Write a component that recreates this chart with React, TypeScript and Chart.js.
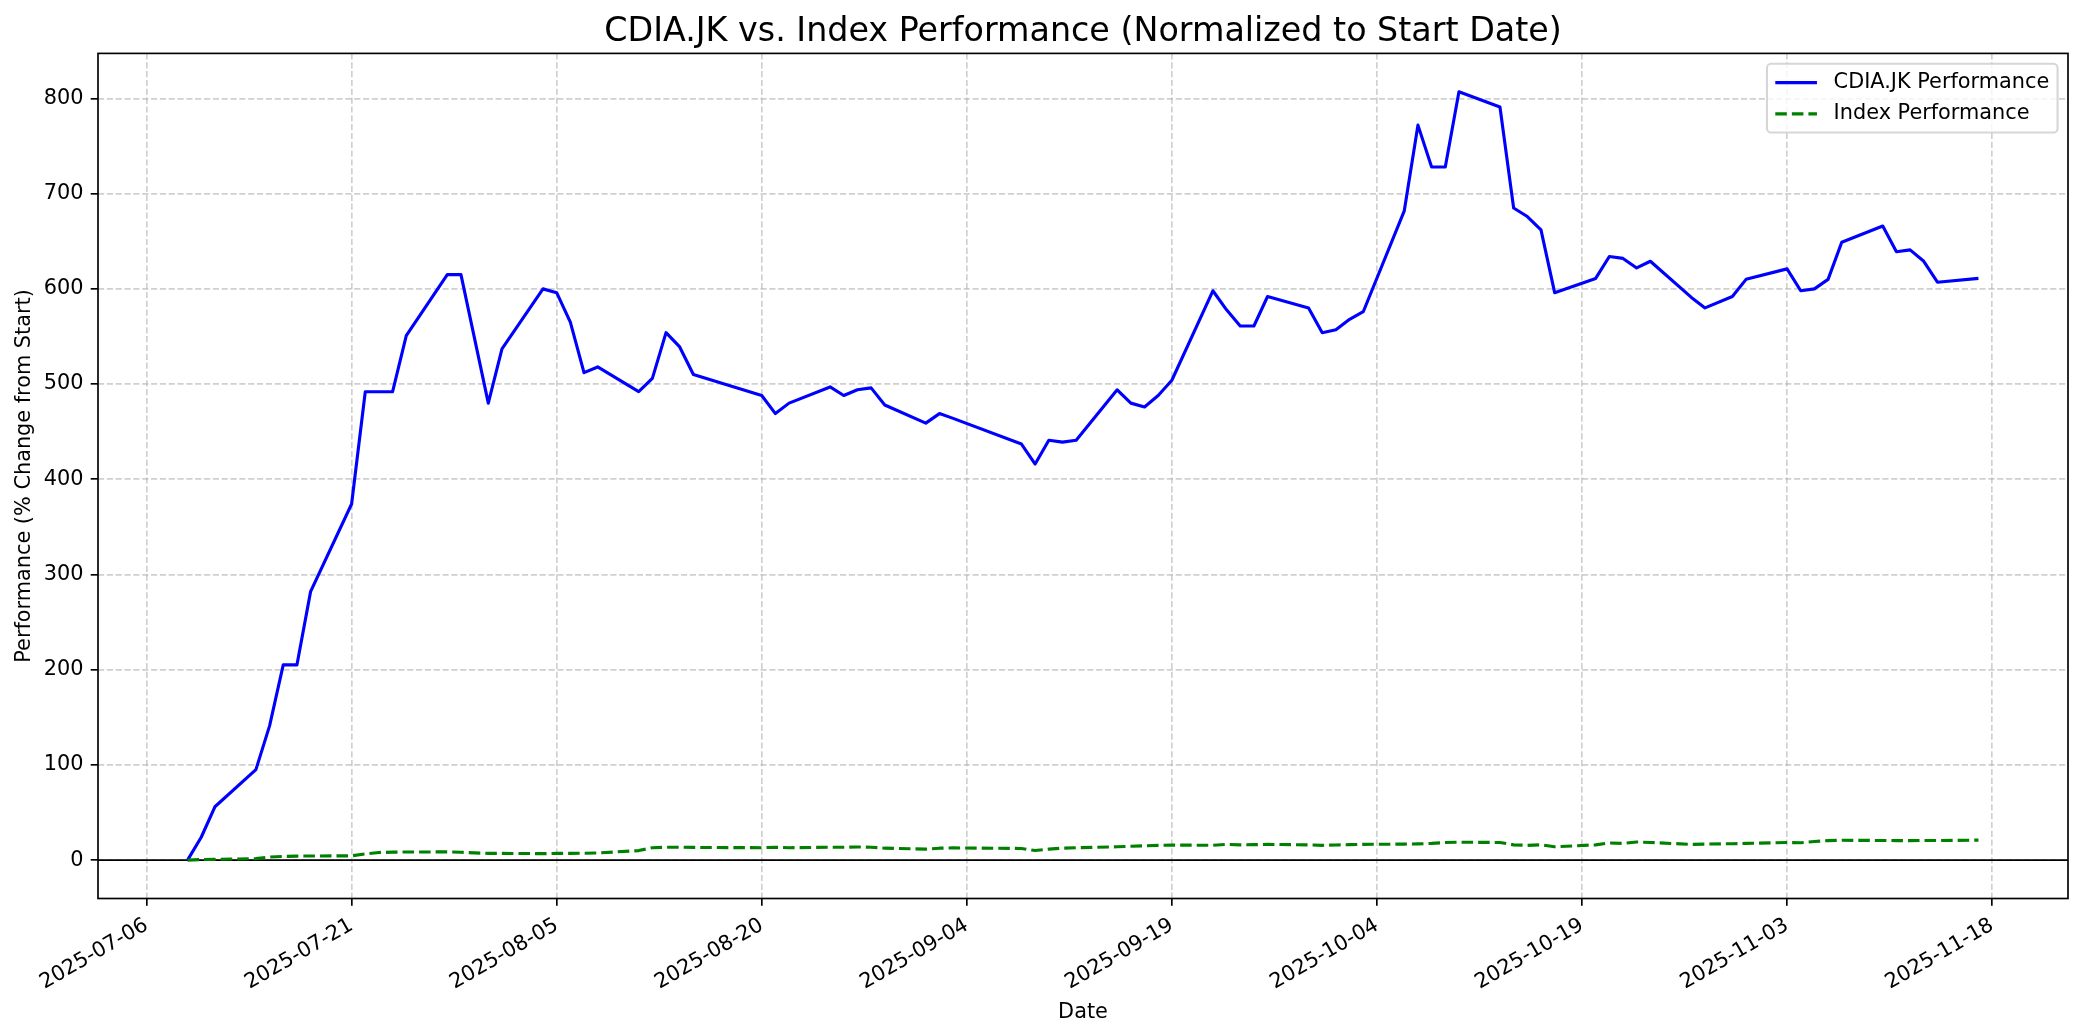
import React, { useEffect, useRef } from "react";
import { Chart, registerables } from "chart.js";

Chart.register(...registerables);

// ---------------- data ----------------
const chartTitle = "CDIA.JK vs. Index Performance (Normalized to Start Date)";
const xAxisTitle = "Date";
const yAxisTitle = "Performance (% Change from Start)";
const seriesLabels = ["CDIA.JK Performance", "Index Performance"];

const dates = [
  "2025-07-09", "2025-07-10", "2025-07-11", "2025-07-14", "2025-07-15", "2025-07-16", "2025-07-17", "2025-07-18",
  "2025-07-21", "2025-07-22", "2025-07-23", "2025-07-24", "2025-07-25", "2025-07-28", "2025-07-29", "2025-07-31",
  "2025-08-01", "2025-08-04", "2025-08-05", "2025-08-06", "2025-08-07", "2025-08-08", "2025-08-11", "2025-08-12",
  "2025-08-13", "2025-08-14", "2025-08-15", "2025-08-20", "2025-08-21", "2025-08-22", "2025-08-25", "2025-08-26",
  "2025-08-27", "2025-08-28", "2025-08-29", "2025-09-01", "2025-09-02", "2025-09-03", "2025-09-08", "2025-09-09",
  "2025-09-10", "2025-09-11", "2025-09-12", "2025-09-15", "2025-09-16", "2025-09-17", "2025-09-18", "2025-09-19",
  "2025-09-22", "2025-09-23", "2025-09-24", "2025-09-25", "2025-09-26", "2025-09-29", "2025-09-30", "2025-10-01",
  "2025-10-02", "2025-10-03", "2025-10-06", "2025-10-07", "2025-10-08", "2025-10-09", "2025-10-10", "2025-10-13",
  "2025-10-14", "2025-10-15", "2025-10-16", "2025-10-17", "2025-10-20", "2025-10-21", "2025-10-22", "2025-10-23",
  "2025-10-24", "2025-10-27", "2025-10-28", "2025-10-30", "2025-10-31", "2025-11-03", "2025-11-04", "2025-11-05",
  "2025-11-06", "2025-11-07", "2025-11-10", "2025-11-11", "2025-11-12", "2025-11-13", "2025-11-14", "2025-11-17",
];

const cdiaPerformance = [
  0, 24, 56, 95, 141, 205, 205, 282,
  374, 492, 492, 492, 551, 615, 615, 480,
  537, 600, 596, 565, 512, 518, 492, 506,
  554, 539, 510, 488, 469, 480, 497, 488,
  494, 496, 478, 459, 469, 464, 437, 416,
  441, 439, 441, 494, 480, 476, 488, 504,
  598, 578, 561, 561, 592, 580, 554, 557,
  568, 576, 682, 772, 728, 728, 807, 791,
  685, 676, 662, 596, 611, 634, 632, 622,
  629, 591, 580, 592, 610, 621, 598, 600,
  610, 649, 666, 639, 641, 629, 607, 611,
];

const indexPerformance = [
  0, 0.5, 0.8, 1.5, 3.2, 3.8, 4.2, 4.3,
  4.5, 6.5, 8.0, 8.3, 8.5, 8.6, 8.2, 7.0,
  7.0, 6.8, 7.0, 7.0, 7.2, 7.5, 10.0, 13.0,
  13.5, 13.5, 13.3, 13.0, 13.5, 13.0, 13.5, 13.5,
  13.8, 13.5, 12.5, 11.5, 12.5, 12.8, 12.2, 10.0,
  11.5, 12.5, 13.0, 14.0, 14.5, 15.0, 15.5, 15.8,
  15.5, 16.5, 16.0, 16.2, 16.5, 16.0, 15.5, 15.8,
  16.2, 16.5, 16.8, 17.0, 17.5, 18.5, 18.8, 18.5,
  16.0, 15.5, 16.0, 14.0, 16.0, 18.0, 17.5, 19.0,
  18.5, 16.5, 16.8, 17.2, 17.5, 18.5, 18.2, 19.5,
  20.5, 20.8, 20.6, 20.5, 20.4, 20.6, 20.5, 21.0,
];

const xTickLabels = [
  "2025-07-06", "2025-07-21", "2025-08-05", "2025-08-20", "2025-09-04",
  "2025-09-19", "2025-10-04", "2025-10-19", "2025-11-03", "2025-11-18",
];
const yTickValues = [0, 100, 200, 300, 400, 500, 600, 700, 800];

// ---------------- helpers ----------------
const ORIGIN = Date.UTC(2025, 6, 6);
function dayOffset(s: string): number {
  const [y, m, d] = s.split("-").map(Number);
  return (Date.UTC(y, m - 1, d) - ORIGIN) / 86400000;
}

const W = 2084;
const H = 1035;
const PT = 150 / 72; // px per point
const FONT = "'DejaVu Sans', 'Liberation Sans', sans-serif";
const FS = 10 * PT;
const GRID = "rgba(176,176,176,0.6)";
const GRID_DASH = [3.7 * 0.8 * PT, 1.6 * 0.8 * PT];
const TICK_LEN = 3.5 * PT;
const AXIS_LW = 0.8 * PT;
const LINE_LW = 1.5 * PT;

const xs = dates.map(dayOffset);
const xSpan = Math.max(...xs) - Math.min(...xs);
const xMin = Math.min(...xs) - 0.05 * xSpan;
const xMax = Math.max(...xs) + 0.05 * xSpan;
const allY = cdiaPerformance.concat(indexPerformance);
const ySpan = Math.max(...allY) - Math.min(...allY);
const yMin = Math.min(...allY) - 0.05 * ySpan;
const yMax = Math.max(...allY) + 0.05 * ySpan;

const framePlugin = {
  id: "mplFrame",
  beforeDatasetsDraw(chart: any) {
    const { ctx, chartArea } = chart;
    const y0 = chart.scales.y.getPixelForValue(0);
    ctx.save();
    ctx.strokeStyle = "#000";
    ctx.lineWidth = AXIS_LW;
    ctx.beginPath();
    ctx.moveTo(chartArea.left, y0);
    ctx.lineTo(chartArea.right, y0);
    ctx.stroke();
    ctx.restore();
  },
  afterDatasetsDraw(chart: any) {
    const { ctx, chartArea } = chart;
    ctx.save();
    ctx.strokeStyle = "#000";
    ctx.lineWidth = AXIS_LW;
    ctx.lineJoin = "miter";
    ctx.strokeRect(chartArea.left, chartArea.top, chartArea.right - chartArea.left, chartArea.bottom - chartArea.top);
    ctx.restore();
  },
};

const legendPlugin = {
  id: "mplLegend",
  afterDraw(chart: any) {
    const { ctx, chartArea } = chart;
    const pad = 0.4 * FS;
    const handleLen = 2 * FS;
    const handlePad = 0.8 * FS;
    const spacing = 0.5 * FS;
    const rowH = 1.0 * FS;
    const axPad = 0.5 * FS;
    ctx.save();
    ctx.font = `${FS}px ${FONT}`;
    const textW = Math.max(...seriesLabels.map((l) => ctx.measureText(l).width));
    const w = pad * 2 + handleLen + handlePad + textW;
    const h = pad * 2 + rowH * seriesLabels.length + spacing * (seriesLabels.length - 1);
    const right = chartArea.right - axPad;
    const top = chartArea.top + axPad;
    const left = right - w;
    ctx.beginPath();
    if ((ctx as any).roundRect) (ctx as any).roundRect(left, top, w, h, 0.2 * FS);
    else ctx.rect(left, top, w, h);
    ctx.fillStyle = "rgba(255,255,255,0.8)";
    ctx.fill();
    ctx.strokeStyle = "rgba(204,204,204,0.8)";
    ctx.lineWidth = 1.0 * PT;
    ctx.stroke();
    const datasets = chart.data.datasets;
    seriesLabels.forEach((label, i) => {
      const cy = top + pad + rowH / 2 + i * (rowH + spacing);
      const ds = datasets[i];
      ctx.beginPath();
      ctx.strokeStyle = ds.borderColor;
      ctx.lineWidth = ds.borderWidth;
      ctx.setLineDash(ds.borderDash || []);
      ctx.lineCap = "butt";
      ctx.moveTo(left + pad, cy);
      ctx.lineTo(left + pad + handleLen, cy);
      ctx.stroke();
      ctx.setLineDash([]);
      ctx.fillStyle = "#000";
      ctx.textAlign = "left";
      ctx.textBaseline = "middle";
      ctx.fillText(label, left + pad + handleLen + handlePad, cy);
    });
    ctx.restore();
  },
};

export default function App() {
  const ref = useRef<HTMLCanvasElement>(null);

  useEffect(() => {
    document.body.style.margin = "0";
    document.body.style.background = "#fff";
    const canvas = ref.current!;
    const chart = new Chart(canvas, {
      type: "line",
      data: {
        datasets: [
          {
            label: seriesLabels[0],
            data: dates.map((d, i) => ({ x: dayOffset(d), y: cdiaPerformance[i] })),
            borderColor: "#0000ff",
            backgroundColor: "#0000ff",
            borderWidth: LINE_LW,
            borderJoinStyle: "round",
            borderCapStyle: "butt",
            pointRadius: 0,
            tension: 0,
            fill: false,
            order: 1,
          },
          {
            label: seriesLabels[1],
            data: dates.map((d, i) => ({ x: dayOffset(d), y: indexPerformance[i] })),
            borderColor: "#008000",
            backgroundColor: "#008000",
            borderWidth: LINE_LW,
            borderDash: [3.7 * 1.5 * PT, 1.6 * 1.5 * PT],
            borderJoinStyle: "round",
            borderCapStyle: "butt",
            pointRadius: 0,
            tension: 0,
            fill: false,
            order: 0,
          },
        ],
      },
      options: {
        animation: false,
        responsive: false,
        devicePixelRatio: 1,
        events: [],
        layout: { padding: { top: 0, right: 16, bottom: 0, left: 0 } },
        plugins: {
          legend: { display: false },
          tooltip: { enabled: false },
          title: {
            display: true,
            fullSize: false,
            text: chartTitle,
            color: "#000",
            font: { family: FONT, size: 16 * PT, weight: "normal" as any, lineHeight: 1.2 },
            padding: { top: 12, bottom: 1.4 },
          },
        },
        scales: {
          x: {
            type: "linear",
            min: xMin,
            max: xMax,
            afterBuildTicks: (s: any) => {
              s.ticks = xTickLabels.map((l) => ({ value: dayOffset(l) }));
            },
            afterFit: (s: any) => {
              s.height = 136.5;
            },
            ticks: {
              autoSkip: false,
              minRotation: 30,
              maxRotation: 30,
              padding: TICK_LEN,
              color: "#000",
              font: { family: FONT, size: FS },
              callback: (_v: any, i: number) => xTickLabels[i],
            },
            grid: {
              color: GRID,
              lineWidth: AXIS_LW,
              drawTicks: true,
              tickLength: TICK_LEN,
              tickColor: "#000",
              tickWidth: AXIS_LW,
              tickBorderDash: [],
            } as any,
            border: { display: false, dash: GRID_DASH },
            title: {
              display: true,
              text: xAxisTitle,
              color: "#000",
              font: { family: FONT, size: FS, lineHeight: 1.2 },
              padding: { top: 4, bottom: 10 },
            },
          },
          y: {
            type: "linear",
            min: yMin,
            max: yMax,
            afterBuildTicks: (s: any) => {
              s.ticks = yTickValues.map((v) => ({ value: v }));
            },
            afterFit: (s: any) => {
              s.width = 98;
            },
            ticks: {
              padding: TICK_LEN,
              color: "#000",
              font: { family: FONT, size: FS },
              callback: (v: any) => String(v),
            },
            grid: {
              color: GRID,
              lineWidth: AXIS_LW,
              drawTicks: true,
              tickLength: TICK_LEN,
              tickColor: "#000",
              tickWidth: AXIS_LW,
              tickBorderDash: [],
            } as any,
            border: { display: false, dash: GRID_DASH },
            title: {
              display: true,
              text: yAxisTitle,
              color: "#000",
              font: { family: FONT, size: FS, lineHeight: 1.2 },
              padding: { top: 12.5, bottom: 4 },
            },
          },
        },
      },
      plugins: [framePlugin, legendPlugin],
    } as any);
    return () => chart.destroy();
  }, []);

  return (
    <div style={{ width: W, height: H, background: "#fff", overflow: "hidden" }}>
      <canvas ref={ref} width={W} height={H} style={{ display: "block", width: W, height: H }} />
    </div>
  );
}
